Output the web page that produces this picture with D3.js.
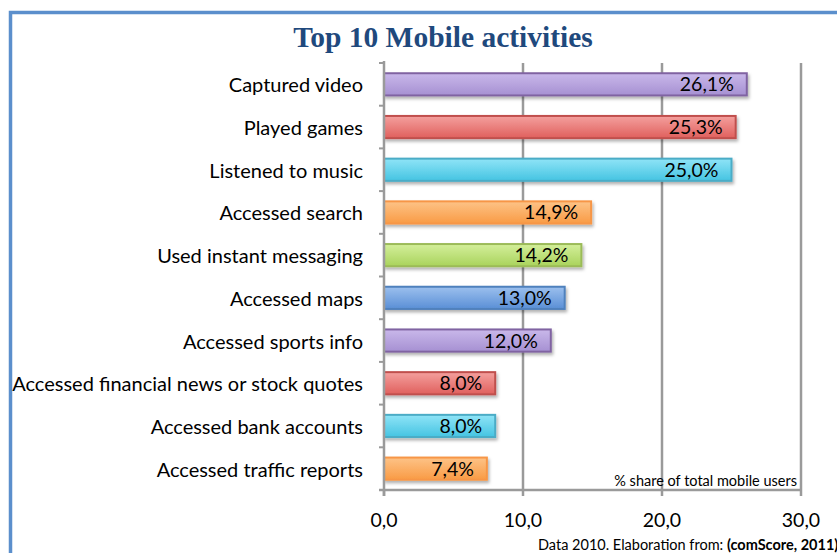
<!DOCTYPE html>
<html>
<head>
<meta charset="utf-8">
<script src="https://cdn.jsdelivr.net/npm/d3@7"></script>
<style>
  html, body { margin: 0; padding: 0; background: #fff; }
  svg { display: block; }
</style>
</head>
<body>
<svg id="chart" width="837" height="553"></svg>
<script>
// Activities, top to bottom
const categories = [
  "Captured video",
  "Played games",
  "Listened to music",
  "Accessed search",
  "Used instant messaging",
  "Accessed maps",
  "Accessed sports info",
  "Accessed financial news or stock quotes",
  "Accessed bank accounts",
  "Accessed traffic reports"
];
// % share of total mobile users
const values = [26.1, 25.3, 25.0, 14.9, 14.2, 13.0, 12.0, 8.0, 8.0, 7.4];
const valueLabels = ["26,1%", "25,3%", "25,0%", "14,9%", "14,2%", "13,0%", "12,0%", "8,0%", "8,0%", "7,4%"];
const xTicks = [0, 10, 20, 30];
const xTickLabels = ["0,0", "10,0", "20,0", "30,0"];

// Office-style palette: [top fill, bottom fill, outline]
const palette = [
  ["#c9b8ea", "#a690d2", "#8064a2"],
  ["#f4a09e", "#e0605d", "#c0504d"],
  ["#8fe4f7", "#45c4e2", "#4bacc6"],
  ["#fdc387", "#f99b45", "#f79646"],
  ["#d4ef9b", "#a9d35c", "#9bbb59"],
  ["#9cc0ee", "#5a8fd6", "#4f81bd"]
];

const svg = d3.select("#chart");
const font = "Lato, 'Open Sans', sans-serif";

// Frame
svg.append("rect")
  .attr("x", 10.5).attr("y", 12.5)
  .attr("width", 840).attr("height", 560)
  .attr("fill", "#fff")
  .attr("stroke", "#5b8fcc")
  .attr("stroke-width", 3.5);

// Title
svg.append("text")
  .attr("x", 443).attr("y", 47)
  .attr("text-anchor", "middle")
  .attr("font-family", "'Liberation Serif', 'DejaVu Serif', serif")
  .attr("font-weight", "bold")
  .attr("font-size", 29.5)
  .attr("fill", "#1f497d")
  .text("Top 10 Mobile activities");

const plot = { left: 384, right: 801, top: 63, bottom: 490 };

const x = d3.scaleLinear().domain([0, 30]).range([plot.left, plot.right]);
const y = d3.scaleBand().domain(categories).range([plot.top, plot.bottom]).paddingInner(0.48).paddingOuter(0.24);
const yb = d3.scaleBand().domain(categories).range([plot.top, plot.bottom]);

// Gradients
const defs = svg.append("defs");
palette.forEach((p, i) => {
  const g = defs.append("linearGradient")
    .attr("id", "grad" + i)
    .attr("x1", 0).attr("y1", 0).attr("x2", 0).attr("y2", 1);
  g.append("stop").attr("offset", "0%").attr("stop-color", p[0]);
  g.append("stop").attr("offset", "100%").attr("stop-color", p[1]);
});
const shadow = defs.append("filter").attr("id", "shadow")
  .attr("x", "-5%").attr("y", "-30%").attr("width", "115%").attr("height", "180%");
shadow.append("feDropShadow")
  .attr("dx", 1.5).attr("dy", 2.5).attr("stdDeviation", 1.6)
  .attr("flood-color", "#000").attr("flood-opacity", 0.3);

// Vertical gridlines
svg.append("g").selectAll("line")
  .data(xTicks.slice(1))
  .join("line")
  .attr("x1", d => x(d)).attr("x2", d => x(d))
  .attr("y1", plot.top).attr("y2", plot.bottom + 6)
  .attr("stroke", "#9a9a9a").attr("stroke-width", 2.5);

// Bars
const bars = svg.append("g");
bars.selectAll("rect")
  .data(values)
  .join("rect")
  .attr("x", x(0))
  .attr("y", (d, i) => y(categories[i]))
  .attr("width", d => x(d) - x(0))
  .attr("height", y.bandwidth())
  .attr("fill", (d, i) => `url(#grad${i % palette.length})`)
  .attr("stroke", (d, i) => palette[i % palette.length][2])
  .attr("stroke-width", 2)
  .attr("filter", "url(#shadow)");

// Value labels
bars.selectAll("text")
  .data(values)
  .join("text")
  .attr("x", d => x(d) - 13)
  .attr("y", (d, i) => y(categories[i]) + y.bandwidth() / 2 + 7)
  .attr("text-anchor", "end")
  .attr("font-family", font)
  .attr("font-size", 19.5)
  .attr("fill", "#000")
  .text((d, i) => valueLabels[i]);

// Y axis
const yAxis = svg.append("g");
yAxis.append("line")
  .attr("x1", plot.left).attr("x2", plot.left)
  .attr("y1", plot.top - 2).attr("y2", plot.bottom + 6)
  .attr("stroke", "#9a9a9a").attr("stroke-width", 2.5);
yAxis.selectAll("line.tick")
  .data(d3.range(categories.length + 1))
  .join("line")
  .attr("class", "tick")
  .attr("x1", plot.left - 5).attr("x2", plot.left)
  .attr("y1", i => plot.top + i * yb.step())
  .attr("y2", i => plot.top + i * yb.step())
  .attr("stroke", "#9a9a9a").attr("stroke-width", 2);
yAxis.selectAll("text")
  .data(categories)
  .join("text")
  .attr("x", 363)
  .attr("y", d => yb(d) + yb.bandwidth() / 2 + 8)
  .attr("text-anchor", "end")
  .attr("font-family", font)
  .attr("font-size", 20)
  .attr("fill", "#000")
  .text(d => d);

// X axis
const xAxis = svg.append("g");
xAxis.append("line")
  .attr("x1", plot.left - 5).attr("x2", plot.right + 1)
  .attr("y1", plot.bottom).attr("y2", plot.bottom)
  .attr("stroke", "#9a9a9a").attr("stroke-width", 2.5);
xAxis.selectAll("line.tick")
  .data(xTicks.slice(0, 1))
  .join("line")
  .attr("class", "tick")
  .attr("x1", d => x(d)).attr("x2", d => x(d))
  .attr("y1", plot.bottom).attr("y2", plot.bottom + 6)
  .attr("stroke", "#9a9a9a").attr("stroke-width", 2.5);
xAxis.selectAll("text")
  .data(xTicks)
  .join("text")
  .attr("x", d => x(d))
  .attr("y", 527)
  .attr("text-anchor", "middle")
  .attr("font-family", font)
  .attr("font-size", 19.5)
  .attr("fill", "#000")
  .text((d, i) => xTickLabels[i]);

// Unit note
svg.append("text")
  .attr("x", 797).attr("y", 486)
  .attr("text-anchor", "end")
  .attr("font-family", font)
  .attr("font-size", 14.5)
  .attr("fill", "#000")
  .text("% share of total mobile users");

// Source note
const src = svg.append("text")
  .attr("x", 538).attr("y", 550)
  .attr("font-family", font)
  .attr("font-size", 14.5)
  .attr("fill", "#000");
src.append("tspan").text("Data 2010. Elaboration from: ");
src.append("tspan").attr("font-weight", "bold").text("(comScore, 2011)");
</script>
</body>
</html>
